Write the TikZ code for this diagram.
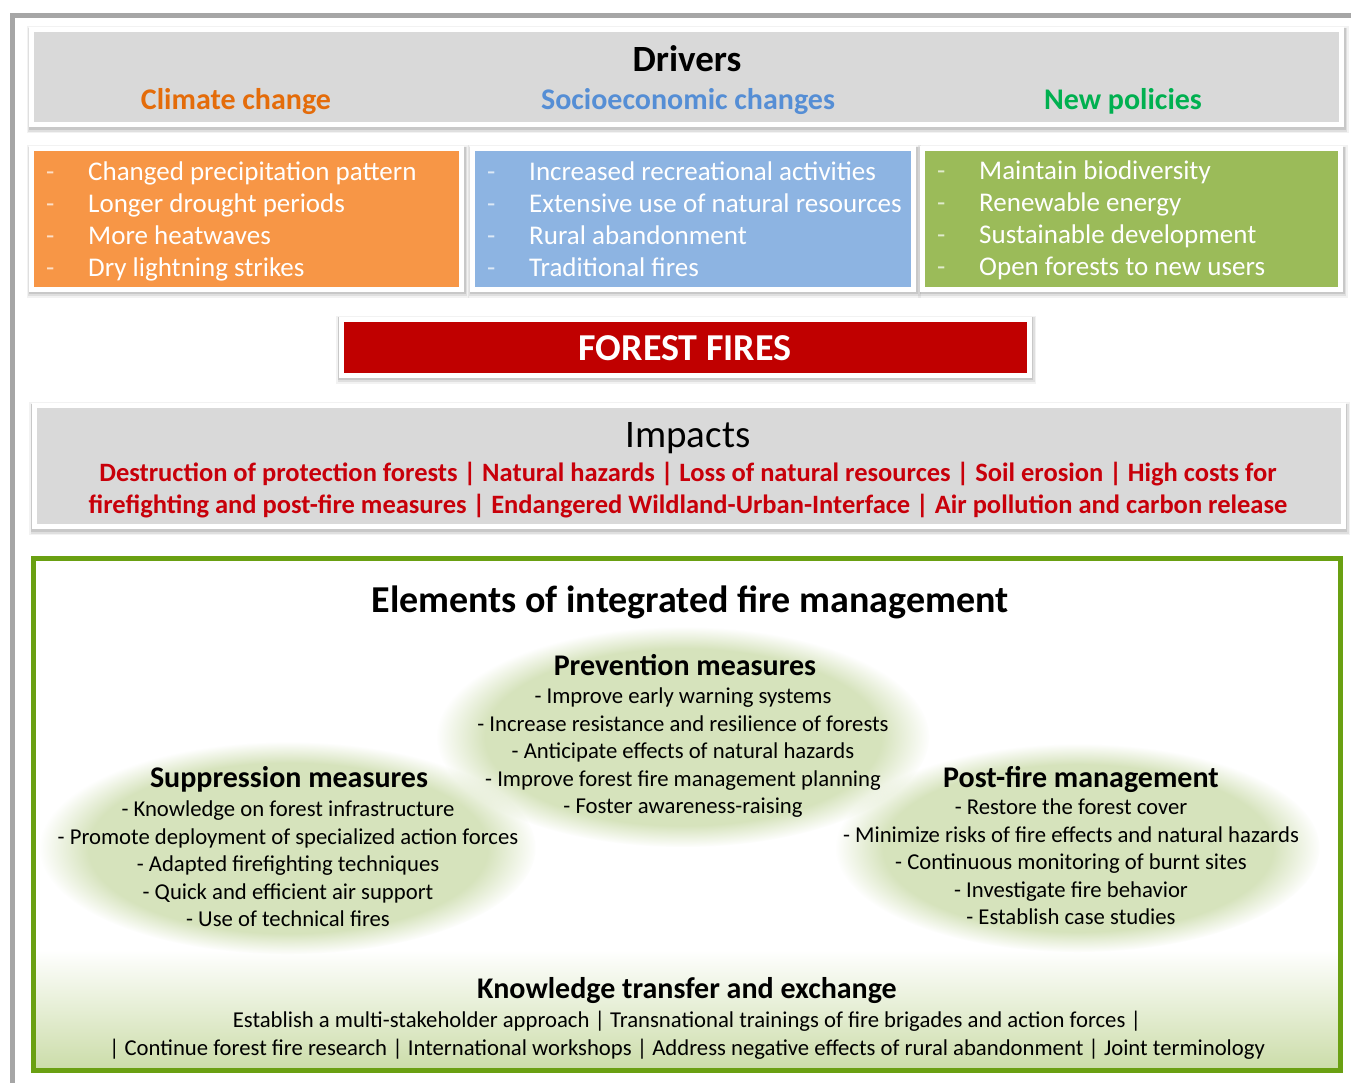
\documentclass[tikz,border=0pt]{standalone}
\usepackage{fontspec}
\setmainfont{Carlito}
\usetikzlibrary{fadings}
\definecolor{framegray}{HTML}{A6A6A6}
\definecolor{boxgray}{HTML}{D9D9D9}
\definecolor{orfill}{HTML}{F79646}
\definecolor{ortext}{HTML}{E46C0A}
\definecolor{blfill}{HTML}{8DB4E2}
\definecolor{bltext}{HTML}{558ED5}
\definecolor{grfill}{HTML}{9BBB59}
\definecolor{grtext}{HTML}{00B050}
\definecolor{firered}{HTML}{C00000}
\definecolor{imptext}{HTML}{C8000A}
\definecolor{framegreen}{HTML}{6AA012}
\definecolor{ellgreen}{HTML}{D6E3BC}
\definecolor{bandgreen}{HTML}{CCDDAA}
\newcommand{\litem}[2]{\makebox[42pt][l]{\textcolor{#1}{-}}#2}
\tikzset{
  panel/.style={rectangle, draw=white, line width=5pt, inner sep=0pt, outer sep=0pt,
    preaction={draw=black, draw opacity=0.05, line width=12pt, transform canvas={xshift=1pt,yshift=-2.5pt}},
    preaction={draw=black, draw opacity=0.08, line width=9pt, transform canvas={xshift=1pt,yshift=-2.5pt}},
    preaction={draw=black, draw opacity=0.10, line width=7pt, transform canvas={xshift=0.5pt,yshift=-1.5pt}}},
  listtext/.style={anchor=west, align=left, inner sep=0pt, text=white,
    font=\fontsize{27}{32}\selectfont},
  subtitle/.style={anchor=base, inner sep=0pt, font=\fontsize{30}{36}\selectfont\bfseries},
  ellhead/.style={anchor=base, inner sep=0pt, font=\fontsize{30}{36}\selectfont\bfseries},
  ellitems/.style={anchor=north, align=center, inner sep=0pt, font=\fontsize{22.7}{27.4}\selectfont},
  fuzzy/.style={fill=ellgreen, path fading=circle with fuzzy edge 20 percent},
}
\begin{document}
\begin{tikzpicture}[x=1pt,y=-1pt]
\useasboundingbox (0,0) rectangle (1351,1083);
\fill[white] (0,0) rectangle (1351,1083);

% outer gray frame
\coordinate (fa) at (12.5,1083);
\coordinate (fb) at (12.5,15.5);
\coordinate (fc) at (1351,15.5);
\draw[framegray, line width=5pt] (fa) -- (fb) -- (fc);

% Drivers
\node[panel, fill=boxgray, minimum width=1310, minimum height=95] (drivers) at (686.5,77.5) {};
\node[anchor=base, inner sep=0pt, font=\fontsize{37}{44}\selectfont\bfseries] (drvT) at (687,72) {Drivers};
\node[subtitle, text=ortext] (ccT) at (236,110) {Climate change};
\node[subtitle, text=bltext] (seT) at (688,110) {Socioeconomic changes};
\node[subtitle, text=grtext] (npT) at (1123,110) {New policies};

% list boxes
\node[panel, fill=orfill, minimum width=430, minimum height=140] (orbox) at (246.5,219) {};
\node[panel, fill=blfill, minimum width=441, minimum height=140] (blbox) at (693,219) {};
\node[panel, fill=grfill, minimum width=418, minimum height=140] (grbox) at (1131.5,219) {};

\node[listtext] (orL) at (46,221) {\litem{white!70!orfill}{Changed precipitation pattern}\\
  \litem{white!70!orfill}{Longer drought periods}\\
  \litem{white!70!orfill}{More heatwaves}\\
  \litem{white!70!orfill}{Dry lightning strikes}};
\node[listtext] (blL) at (487,219.5) {\litem{white!70!blfill}{Increased recreational activities}\\
  \litem{white!70!blfill}{Extensive use of natural resources}\\
  \litem{white!70!blfill}{Rural abandonment}\\
  \litem{white!70!blfill}{Traditional fires}};
\node[listtext] (grL) at (937,220) {\litem{white!70!grfill}{Maintain biodiversity}\\
  \litem{white!70!grfill}{Renewable energy}\\
  \litem{white!70!grfill}{Sustainable development}\\
  \litem{white!70!grfill}{Open forests to new users}};

% Forest fires
\node[panel, fill=firered, minimum width=688, minimum height=56] (ff) at (685,347) {};
\node[anchor=base, inner sep=0pt, text=white, font=\fontsize{38}{44}\selectfont\bfseries] (ffT) at (685,360) {FOREST FIRES};

% Impacts
\node[panel, fill=boxgray, minimum width=1309, minimum height=121] (imp) at (688.5,466) {};
\node[anchor=base, inner sep=0pt, font=\fontsize{39}{46}\selectfont] (impT) at (688,447) {Impacts};
\node[anchor=base, inner sep=0pt, text=imptext, font=\fontsize{26.5}{32}\selectfont\bfseries] (imp1) at (688,481)
  {Destruction of protection forests | Natural hazards | Loss of natural resources | Soil erosion | High costs for};
\node[anchor=base, inner sep=0pt, text=imptext, font=\fontsize{26.5}{32}\selectfont\bfseries] (imp2) at (688,513)
  {firefighting and post-fire measures | Endangered Wildland-Urban-Interface | Air pollution and carbon release};

% integrated fire management frame
\shade[top color=white, bottom color=bandgreen] (36,950) rectangle (1338,1068);
\node[draw=framegreen, line width=5pt, minimum width=1307, minimum height=512, inner sep=0pt] (igm) at (687,814.5) {};
\node[anchor=base, inner sep=0pt, font=\fontsize{38}{44}\selectfont\bfseries] (igmT) at (690,612) {Elements of integrated fire management};

% ellipses
\path[fuzzy] (683,737) ellipse [x radius=246, y radius=110];
\path[fuzzy] (288,848) ellipse [x radius=248, y radius=106];
\path[fuzzy] (1078,848) ellipse [x radius=242, y radius=104];

\node[ellhead] (prevH) at (685,675) {Prevention measures};
\node[ellitems] (prevI) at (683,688) {- Improve early warning systems\\
  - Increase resistance and resilience of forests\\
  - Anticipate effects of natural hazards\\
  - Improve forest fire management planning\\
  - Foster awareness-raising};

\node[ellhead] (supH) at (289,787) {Suppression measures};
\node[ellitems] (supI) at (288,801) {- Knowledge on forest infrastructure\\
  - Promote deployment of specialized action forces\\
  - Adapted firefighting techniques\\
  - Quick and efficient air support\\
  - Use of technical fires};

\node[ellhead] (postH) at (1081,787) {Post-fire management};
\node[ellitems] (postI) at (1071,799) {- Restore the forest cover\\
  - Minimize risks of fire effects and natural hazards\\
  - Continuous monitoring of burnt sites\\
  - Investigate fire behavior\\
  - Establish case studies};

% knowledge transfer
\node[ellhead] (ktH) at (687,998) {Knowledge transfer and exchange};
\node[ellitems] (ktI) at (687,1011) {Establish a multi-stakeholder approach | Transnational trainings of fire brigades and action forces |\\
  | Continue forest fire research | International workshops | Address negative effects of rural abandonment | Joint terminology};
\end{tikzpicture}
\end{document}
